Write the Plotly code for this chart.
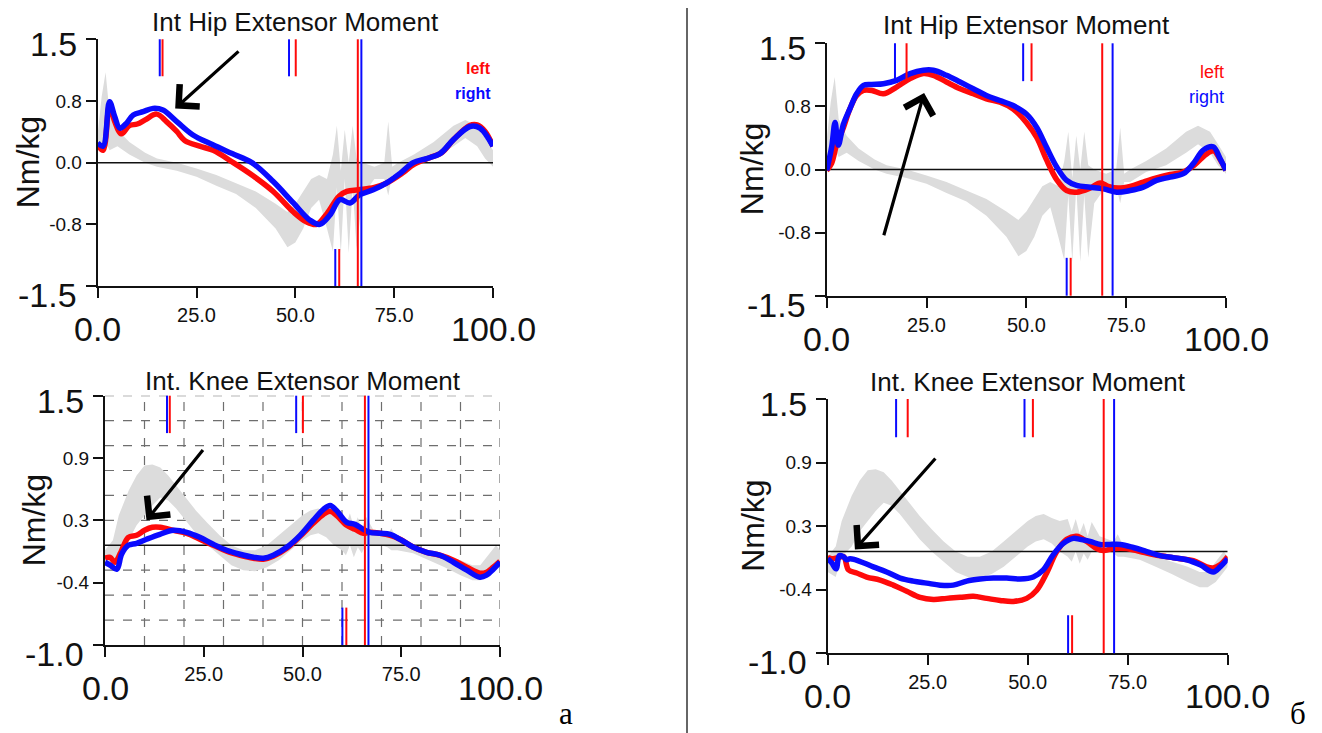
import plotly.graph_objects as go

# ======================= DATA =======================
# --- panel a: Int Hip Extensor Moment (top-left) ---
hip_a_left_x = [0, 1.35, 3, 4.3, 6, 8, 10, 12, 14.9, 17.4, 20, 22, 25.8, 29.2, 34.3, 39.3, 44.4, 49.5, 52.8,
                55.4, 58, 61, 63, 66, 70, 73, 77, 80, 84, 87, 90, 94, 96, 98, 100]
hip_a_left_y = [0.22, 0.15, 0.7, 0.5, 0.35, 0.45, 0.47, 0.52, 0.59, 0.5, 0.38, 0.27, 0.2, 0.15, 0.0, -0.16, -0.35,
                -0.6, -0.72, -0.75, -0.62, -0.41, -0.35, -0.33, -0.3, -0.25, -0.13, -0.02, 0.06, 0.12, 0.28, 0.45,
                0.46, 0.38, 0.2]
hip_a_right_x = [0, 1.35, 3, 4.3, 5.6, 7.3, 9, 11.5, 14, 16.5, 20, 24, 29, 34, 39, 44.4, 49.5, 53.7, 56.2, 58.7,
                 61.3, 63.8, 66.3, 69.7, 73, 76.5, 79.8, 83.2, 86.6, 90, 94.2, 96.7, 100]
hip_a_right_y = [0.24, 0.2, 0.74, 0.56, 0.42, 0.48, 0.58, 0.62, 0.66, 0.64, 0.5, 0.34, 0.22, 0.11, 0.0, -0.23,
                 -0.49, -0.7, -0.75, -0.64, -0.45, -0.49, -0.39, -0.33, -0.25, -0.13, 0.0, 0.05, 0.11, 0.28, 0.44,
                 0.42, 0.2]

# --- panel б: Int Hip Extensor Moment (top-right) ---
hip_b_left_x = [0, 1.2, 2.5, 4.2, 5.8, 7.5, 9.2, 11.3, 14.2, 17.5, 20.9, 24.2, 26.7, 30, 33.4, 36.7, 40, 43.4,
                46.7, 50, 52.6, 55, 57.6, 60.1, 62.6, 66, 68.5, 70.5, 73, 76, 79.3, 82.6, 86, 89.3, 92, 95, 97,
                98.5, 100]
hip_b_left_y = [-0.01, 0.07, 0.3, 0.5, 0.72, 0.88, 0.94, 0.94, 0.9, 0.98, 1.08, 1.14, 1.12, 1.04, 0.96, 0.9,
                0.84, 0.8, 0.72, 0.56, 0.38, 0.12, -0.12, -0.25, -0.27, -0.22, -0.16, -0.2, -0.22, -0.2, -0.15,
                -0.1, -0.06, -0.03, 0.05, 0.18, 0.22, 0.12, -0.01]
hip_b_right_x = [0, 1.25, 2.1, 2.9, 4.2, 5.8, 7.5, 9.2, 11.3, 14.2, 17.5, 20.9, 24.2, 26.7, 30, 33.4, 36.7, 40,
                 43.4, 46.7, 50, 52.6, 55, 57.6, 60.1, 62.6, 66, 69.3, 72.6, 76, 79.3, 82.6, 86, 89.3, 91.8, 94.3,
                 96.8, 98.5, 100]
hip_b_right_y = [-0.01, 0.27, 0.56, 0.29, 0.54, 0.72, 0.9, 1.0, 1.01, 1.02, 1.06, 1.14, 1.18, 1.18, 1.12, 1.04,
                 0.96, 0.88, 0.82, 0.76, 0.66, 0.5, 0.27, 0.03, -0.13, -0.19, -0.21, -0.23, -0.27, -0.25, -0.21,
                 -0.13, -0.09, -0.05, 0.07, 0.23, 0.27, 0.13, -0.01]

# --- panel a: Int. Knee Extensor Moment (bottom-left) ---
knee_a_left_x = [0, 1.3, 2.5, 4, 5.9, 8, 10, 12, 14, 17.3, 20.7, 24, 27.4, 30.8, 34.2, 37.6, 40.1, 42.6, 46,
                 49.4, 52.7, 55.3, 57, 58.6, 61.2, 63.3, 65.4, 67, 69.6, 72.2, 74.7, 78.1, 81.4, 84.8, 88.2, 91.6,
                 94.9, 96.6, 98.3, 100]
knee_a_left_y = [-0.13, -0.12, -0.17, -0.07, 0.08, 0.1, 0.15, 0.18, 0.18, 0.15, 0.12, 0.06, 0.0, -0.06, -0.1,
                 -0.13, -0.14, -0.11, -0.03, 0.09, 0.22, 0.31, 0.34, 0.3, 0.2, 0.16, 0.12, 0.13, 0.12, 0.1, 0.06,
                 -0.02, -0.07, -0.1, -0.15, -0.22, -0.28, -0.27, -0.22, -0.16]
knee_a_right_x = [0, 1.3, 3, 4.2, 5.9, 8, 10.5, 13.9, 17.3, 20.7, 24, 27.4, 30.8, 34.2, 37.6, 40.1, 42.6, 46,
                  49.4, 52.7, 55.3, 57, 58.6, 61.2, 63.3, 65.4, 67, 69.6, 72.2, 74.7, 78.1, 81.4, 84.8, 88.2, 91.6,
                  94.9, 96.6, 98.3, 100]
knee_a_right_y = [-0.17, -0.2, -0.24, -0.09, 0.0, 0.02, 0.06, 0.11, 0.15, 0.13, 0.08, 0.01, -0.05, -0.09, -0.12,
                  -0.13, -0.1, -0.02, 0.1, 0.25, 0.36, 0.4, 0.35, 0.23, 0.21, 0.16, 0.13, 0.12, 0.11, 0.06, -0.02,
                  -0.07, -0.1, -0.17, -0.25, -0.32, -0.3, -0.24, -0.17]

# --- panel б: Int. Knee Extensor Moment (bottom-right) ---
knee_b_left_x = [0, 1, 2.5, 4, 5.2, 7.25, 9.75, 13.1, 16.4, 19.75, 23.1, 26.4, 29.75, 33.1, 36.4, 39.75, 43.1,
                 46.4, 49.75, 52.25, 54.75, 57.25, 59.75, 62.25, 64.75, 67.25, 68.9, 71.4, 74.75, 78.1, 81.4,
                 84.75, 88.1, 91.4, 94.75, 96.4, 98.1, 100]
knee_b_left_y = [-0.06, -0.07, -0.06, -0.05, -0.18, -0.21, -0.25, -0.28, -0.33, -0.39, -0.45, -0.47, -0.46,
                 -0.45, -0.44, -0.46, -0.48, -0.49, -0.46, -0.38, -0.21, 0.0, 0.12, 0.15, 0.1, 0.03, 0.01, 0.03,
                 0.03, 0.0, -0.03, -0.05, -0.07, -0.09, -0.15, -0.16, -0.13, -0.05]
knee_b_right_x = [0, 1, 2.1, 2.9, 3.9, 4.75, 5.6, 6.8, 8.9, 11.4, 14.75, 18.1, 21.4, 24.75, 28.1, 31.4, 34.75,
                  38.1, 41.4, 44.75, 48.1, 51.4, 53.9, 56.4, 58.9, 61.4, 63.1, 65.6, 68.1, 70.6, 73.1, 76.4, 79.75,
                  83.1, 86.4, 89.75, 93.1, 96.4, 98.1, 100]
knee_b_right_y = [-0.07, -0.11, -0.17, -0.04, -0.05, -0.08, -0.07, -0.08, -0.11, -0.15, -0.2, -0.26, -0.29,
                  -0.31, -0.33, -0.33, -0.29, -0.27, -0.26, -0.26, -0.27, -0.25, -0.18, -0.03, 0.08, 0.13, 0.12,
                  0.1, 0.07, 0.07, 0.07, 0.04, 0.0, -0.04, -0.06, -0.08, -0.13, -0.2, -0.15, -0.07]

# --- normative bands (grey) ---
hip_norm_x = [0, 1, 2, 3, 5, 8, 12, 15, 20, 25, 30, 35, 40, 45, 48, 50, 52, 54, 56, 58, 59.5, 60.5, 61.5, 62.5,
              63.5, 64.5, 65.5, 67, 70, 72.5, 73.5, 74.5, 76, 80, 85, 90, 93, 96, 98, 100]
hip_norm_hi = [0.35, 0.8, 1.1, 0.6, 0.4, 0.25, 0.12, 0.05, 0.0, -0.07, -0.15, -0.25, -0.35, -0.5, -0.6, -0.5,
               -0.35, -0.2, -0.15, -0.2, 0.1, 0.45, -0.1, 0.4, 0.0, 0.45, 0.05, 0.0, -0.05, 0.0, 0.5, -0.05, 0.0,
               0.1, 0.25, 0.45, 0.52, 0.45, 0.3, 0.15]
hip_norm_lo = [0.15, 0.2, 0.25, 0.15, 0.2, 0.1, 0.0, -0.05, -0.1, -0.17, -0.28, -0.38, -0.55, -0.8, -1.03, -0.97,
               -0.8, -0.55, -0.45, -0.8, -1.08, -0.3, -1.1, -0.2, -1.1, -0.3, -1.05, -0.4, -0.2, -0.2, -0.4,
               -0.15, -0.15, -0.03, 0.05, 0.2, 0.3, 0.2, 0.05, -0.05]
knee_norm_x = [0, 2, 3.5, 6, 8, 10, 12, 14, 16, 18, 20, 23, 26, 29, 32, 35, 38, 41, 44, 47, 50, 52, 54, 56, 58,
               60, 61, 62, 63, 64, 65, 66, 68, 70, 71.5, 72.5, 74, 78, 82, 86, 90, 93, 95, 97, 99, 100]
knee_norm_hi = [-0.05, 0.05, 0.3, 0.55, 0.7, 0.8, 0.81, 0.78, 0.7, 0.6, 0.5, 0.35, 0.22, 0.1, 0.0, -0.05, -0.05,
                0.0, 0.1, 0.2, 0.3, 0.35, 0.37, 0.33, 0.3, 0.32, 0.2, 0.32, 0.18, 0.28, 0.15, 0.29, 0.15, 0.12,
                0.1, 0.17, 0.05, 0.0, -0.05, -0.1, -0.15, -0.2, -0.2, -0.1, 0.0, -0.05]
knee_norm_lo = [-0.2, -0.25, -0.05, 0.05, 0.2, 0.3, 0.4, 0.48, 0.45, 0.37, 0.27, 0.12, 0.0, -0.1, -0.2, -0.25,
                -0.26, -0.22, -0.15, -0.05, 0.05, 0.1, 0.12, 0.08, 0.0, -0.05, -0.1, 0.0, -0.12, -0.02, -0.08, 0.0,
                0.0, 0.0, -0.02, -0.05, -0.05, -0.08, -0.15, -0.22, -0.3, -0.35, -0.35, -0.3, -0.2, -0.15]

# --- gait event markers (% of cycle) ---
ev_a_left_top = [16.4, 50.1]
ev_a_left_long = [65.8]
ev_a_left_bottom = [61.1]
ev_a_right_top = [15.7, 48.4]
ev_a_right_long = [66.7]
ev_a_right_bottom = [60.1]
ev_b_left_top = [20.0, 51.3]
ev_b_left_long = [69.0]
ev_b_left_bottom = [61.1]
ev_b_right_top = [17.1, 49.2]
ev_b_right_long = [71.6]
ev_b_right_bottom = [60.1]

# --- axes ---
x_range = [0, 100]
x_tick_vals = [0, 25, 50, 75, 100]
x_tick_text = ["0.0", "25.0", "50.0", "75.0", "100.0"]
hip_range = [-1.5, 1.5]
hip_tick_vals = [-1.5, -0.75, 0, 0.75, 1.5]
hip_tick_text = ["-1.5", "-0.8", "0.0", "0.8", "1.5"]
knee_range = [-1.0, 1.5]
knee_tick_vals = [-1.0, -0.375, 0.25, 0.875, 1.5]
knee_tick_text = ["-1.0", "-0.4", "0.3", "0.9", "1.5"]
grid_x = [10, 20, 30, 40, 50, 60, 70, 80, 90, 100]
grid_y = [-0.75, -0.5, -0.25, 0.25, 0.5, 0.75, 1.0, 1.25, 1.5]

# --- arrows (tip, tail) in data units ---
arrow_hip_a = (19.6, 0.66, 36.0, 1.37)
arrow_hip_b = (24.4, 0.91, 14.2, -0.8)
arrow_knee_a = (10.5, 0.25, 25.1, 0.97)
arrow_knee_b = (6.8, 0.02, 27.25, 0.93)

# ======================= STYLE / LAYOUT =======================
W, H = 1322, 733
RED = "#ff0a0a"
BLUE = "#0a0aff"
BAND = "#dcdcdc"
TXT = "#111111"
SANS = "Arial, Liberation Sans, sans-serif"
SERIF = "Times New Roman, Liberation Serif, serif"


def fx(p):
    return p / W


def fy(p):
    return 1 - p / H


panels = [
    dict(n="", title="Int Hip Extensor Moment", box=(97.7, 39.3, 493, 286),
         yr=hip_range, ytv=hip_tick_vals, ytt=hip_tick_text,
         band=(hip_norm_x, hip_norm_hi, hip_norm_lo),
         L=(hip_a_left_x, hip_a_left_y), R=(hip_a_right_x, hip_a_right_y),
         evL=(ev_a_left_top, ev_a_left_long, ev_a_left_bottom),
         evR=(ev_a_right_top, ev_a_right_long, ev_a_right_bottom),
         arrow=arrow_hip_a, legend="bold", grid=False, ytitle_dx=70, title_dy=17),
    dict(n="2", title="Int Hip Extensor Moment", box=(826.7, 43.3, 1226, 295.7),
         yr=hip_range, ytv=hip_tick_vals, ytt=hip_tick_text,
         band=(hip_norm_x, hip_norm_hi, hip_norm_lo),
         L=(hip_b_left_x, hip_b_left_y), R=(hip_b_right_x, hip_b_right_y),
         evL=(ev_b_left_top, ev_b_left_long, ev_b_left_bottom),
         evR=(ev_b_right_top, ev_b_right_long, ev_b_right_bottom),
         arrow=arrow_hip_b, legend="normal", grid=False, ytitle_dx=75, title_dy=18),
    dict(n="3", title="Int. Knee Extensor Moment", box=(105, 395.7, 500, 645),
         yr=knee_range, ytv=knee_tick_vals, ytt=knee_tick_text,
         band=(knee_norm_x, knee_norm_hi, knee_norm_lo),
         L=(knee_a_left_x, knee_a_left_y), R=(knee_a_right_x, knee_a_right_y),
         evL=(ev_a_left_top, ev_a_left_long, ev_a_left_bottom),
         evR=(ev_a_right_top, ev_a_right_long, ev_a_right_bottom),
         arrow=arrow_knee_a, legend=None, grid=True, ytitle_dx=71, title_dy=15),
    dict(n="4", title="Int. Knee Extensor Moment", box=(827.7, 399, 1227.7, 653.3),
         yr=knee_range, ytv=knee_tick_vals, ytt=knee_tick_text,
         band=(knee_norm_x, knee_norm_hi, knee_norm_lo),
         L=(knee_b_left_x, knee_b_left_y), R=(knee_b_right_x, knee_b_right_y),
         evL=(ev_b_left_top, ev_b_left_long, ev_b_left_bottom),
         evR=(ev_b_right_top, ev_b_right_long, ev_b_right_bottom),
         arrow=arrow_knee_b, legend=None, grid=False, ytitle_dx=75, title_dy=17),
]

MARK_FRAC = 0.15

fig = go.Figure()
layout = dict(width=W, height=H, margin=dict(l=0, r=0, t=0, b=0),
              paper_bgcolor="white", plot_bgcolor="white", showlegend=False)
shapes = []
annotations = []

for p in panels:
    n = p["n"]
    xa, ya = "x" + n, "y" + n
    xd, yd = xa + " domain", ya + " domain"
    x0, y0, x1, y1 = p["box"]

    # band
    bx, bhi, blo = p["band"]
    fig.add_trace(go.Scatter(x=list(bx) + list(bx)[::-1], y=list(bhi) + list(blo)[::-1],
                             fill="toself", fillcolor=BAND, mode="lines", line=dict(width=0, color=BAND),
                             xaxis=xa, yaxis=ya, hoverinfo="skip"))
    # zero reference line
    fig.add_trace(go.Scatter(x=x_range, y=[0, 0], mode="lines", line=dict(color="#111", width=1.5),
                             xaxis=xa, yaxis=ya, hoverinfo="skip"))
    # curves
    fig.add_trace(go.Scatter(x=p["L"][0], y=p["L"][1], mode="lines", line=dict(color=RED, width=5.5),
                             line_shape="spline", xaxis=xa, yaxis=ya, name="left"))
    fig.add_trace(go.Scatter(x=p["R"][0], y=p["R"][1], mode="lines", line=dict(color=BLUE, width=5.5),
                             line_shape="spline", xaxis=xa, yaxis=ya, name="right"))

    axis_common = dict(showline=True, linecolor="#111", linewidth=2, ticks="outside", ticklen=10,
                       tickwidth=2, tickcolor="#111", showgrid=False, zeroline=False, fixedrange=True,
                       mirror=False)
    xt_small = [t if i not in (0, len(x_tick_text) - 1) else "" for i, t in enumerate(x_tick_text)]
    yt_small = [t if i not in (0, len(p["ytt"]) - 1) else "" for i, t in enumerate(p["ytt"])]
    layout["xaxis" + n] = dict(axis_common, domain=[fx(x0), fx(x1)], range=x_range, anchor=ya,
                               tickmode="array", tickvals=x_tick_vals, ticktext=xt_small,
                               tickfont=dict(family=SANS, size=20, color=TXT))
    layout["yaxis" + n] = dict(axis_common, domain=[fy(y1), fy(y0)], range=p["yr"], anchor=xa,
                               tickmode="array", tickvals=p["ytv"], ticktext=yt_small,
                               tickfont=dict(family=SANS, size=19, color=TXT))

    # grid (bottom-left panel)
    if p["grid"]:
        for gx in grid_x:
            shapes.append(dict(type="line", xref=xa, yref=yd, x0=gx, x1=gx, y0=0, y1=1, layer="below",
                               line=dict(color="#6e6e6e", width=1.2, dash="dash")))
        for gy in grid_y:
            shapes.append(dict(type="line", xref=xd, yref=ya, x0=0, x1=1, y0=gy, y1=gy, layer="below",
                               line=dict(color="#6e6e6e", width=1.2, dash="dash")))

    # event markers
    for col, (top, lng, bot) in ((RED, p["evL"]), (BLUE, p["evR"])):
        for v in top:
            shapes.append(dict(type="line", xref=xa, yref=yd, x0=v, x1=v, y0=1 - MARK_FRAC, y1=1,
                               layer="above", line=dict(color=col, width=2)))
        for v in lng:
            shapes.append(dict(type="line", xref=xa, yref=yd, x0=v, x1=v, y0=0, y1=1,
                               layer="above", line=dict(color=col, width=2)))
        for v in bot:
            shapes.append(dict(type="line", xref=xa, yref=yd, x0=v, x1=v, y0=0, y1=MARK_FRAC,
                               layer="above", line=dict(color=col, width=2)))

    # big end-point tick labels
    big = dict(family=SANS, size=34, color=TXT)
    annotations.append(dict(text=p["ytt"][-1], xref=xd, x=0, yref=ya, y=p["ytv"][-1], xanchor="right",
                            yanchor="middle", xshift=-19, yshift=-5, showarrow=False, font=big))
    annotations.append(dict(text=p["ytt"][0], xref=xd, x=0, yref=ya, y=p["ytv"][0], xanchor="right",
                            yanchor="middle", xshift=-19, yshift=-9, showarrow=False, font=big))
    annotations.append(dict(text=x_tick_text[0], xref=xa, x=x_tick_vals[0], yref=yd, y=0, xanchor="center",
                            yanchor="middle", yshift=-43, showarrow=False, font=big))
    annotations.append(dict(text=x_tick_text[-1], xref=xa, x=x_tick_vals[-1], yref=yd, y=0, xanchor="center",
                            yanchor="middle", yshift=-43, showarrow=False, font=big))

    # y title
    annotations.append(dict(text="Nm/kg", xref=xd, x=0, yref=yd, y=0.5, xanchor="center", yanchor="middle",
                            xshift=-p["ytitle_dx"], textangle=-90, showarrow=False,
                            font=dict(family=SANS, size=32, color=TXT)))
    # panel title
    annotations.append(dict(text=p["title"], xref=xd, x=0.5, yref=yd, y=1, xanchor="center",
                            yanchor="middle", yshift=p["title_dy"], showarrow=False,
                            font=dict(family=SANS, size=26, color=TXT)))
    # legend text
    if p["legend"] is not None:
        b = p["legend"] == "bold"
        fs = 16 if b else 18
        lt = "<b>left</b>" if b else "left"
        rt = "<b>right</b>" if b else "right"
        annotations.append(dict(text=lt, xref=xd, x=1, yref=yd, y=1, xanchor="right", yanchor="middle",
                                yshift=-29, showarrow=False, font=dict(family=SANS, size=fs, color=RED)))
        annotations.append(dict(text=rt, xref=xd, x=1, yref=yd, y=1, xanchor="right", yanchor="middle",
                                yshift=-54, showarrow=False, font=dict(family=SANS, size=fs, color=BLUE)))
    # hand-drawn arrow
    tx, ty, sx, sy = p["arrow"]
    annotations.append(dict(text="", x=tx, y=ty, xref=xa, yref=ya, ax=sx, ay=sy, axref=xa, ayref=ya,
                            showarrow=True, arrowhead=4, arrowsize=1.8, arrowwidth=3.2, arrowcolor="#000"))

# separator line and sub-figure labels
shapes.append(dict(type="line", xref="paper", yref="paper", x0=fx(687), x1=fx(687), y0=0, y1=fy(8),
                   line=dict(color="#333", width=1.5)))
annotations.append(dict(text="а", xref="paper", yref="paper", x=fx(566), y=0, xanchor="center",
                        yanchor="bottom", showarrow=False, font=dict(family=SERIF, size=31, color="#000")))
annotations.append(dict(text="б", xref="paper", yref="paper", x=fx(1298), y=0, xanchor="center",
                        yanchor="bottom", showarrow=False, font=dict(family=SERIF, size=31, color="#000")))

layout["shapes"] = shapes
layout["annotations"] = annotations
fig.update_layout(**layout)
fig.write_html("out.html", config={"displayModeBar": False},
               post_script="document.body.style.margin='0px';")
